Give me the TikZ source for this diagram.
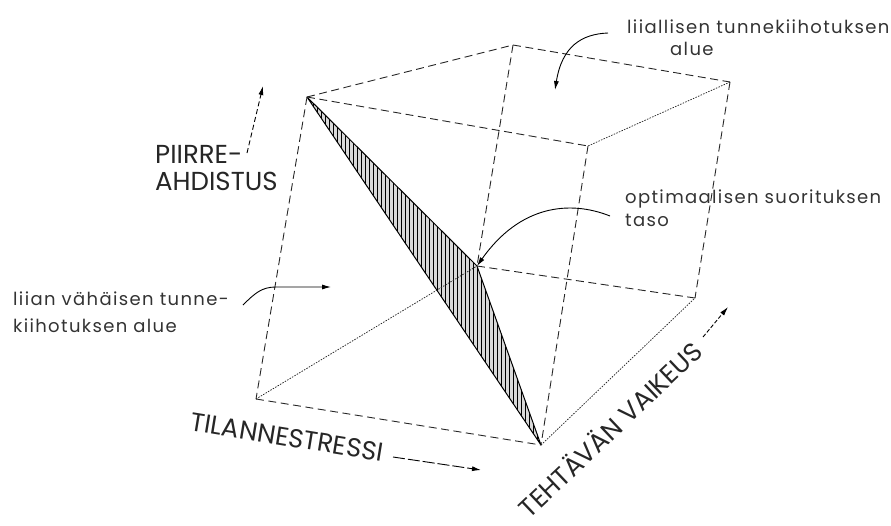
\documentclass[tikz,border=0pt]{standalone}
\usepackage{fontspec}
\setmainfont{Poppins}
\newfontfamily\lblfont{Poppins}[LetterSpace=7.5]
\usetikzlibrary{arrows.meta}
\begin{document}
\begin{tikzpicture}[x=1pt,y=-1pt,
  edge/.style={line width=0.9pt, dash pattern=on 8pt off 4.5pt, black!85},
  fine/.style={line width=0.75pt, dash pattern=on 1.5pt off 1.3pt, black!85},
  rim/.style={line width=1pt, line join=round},
  lbl/.style={font=\lblfont\fontsize{18}{20}\selectfont, inner sep=0pt, text=black!80, anchor=base west},
  capl/.style={font=\fontsize{26}{28}\selectfont, inner sep=0pt, text=black!85, text height=18pt, text depth=0pt},
  arr/.style={-{Latex[length=9pt,width=5pt]}, line width=0.9pt},
  darr/.style={arr, dash pattern=on 5pt off 3pt},
]
\useasboundingbox (0,0) rectangle (891,525);
% cube vertices
\coordinate (A) at (307,97);
\coordinate (B) at (513,45);
\coordinate (C) at (730,82);
\coordinate (D) at (588,146);
\coordinate (E) at (256,399);
\coordinate (F) at (477,266);
\coordinate (G) at (695,298);
\coordinate (H) at (541,445);
% hatched plane
\begin{scope}
  \clip (A) -- (F) -- (H) -- cycle;
  \fill[gray!30] (A) -- (F) -- (H) -- cycle;
  \foreach \x in {305,309,...,545} \draw[line width=0.7pt] (\x,90) -- (\x,450);
\end{scope}
\draw[rim] (A) -- (F) -- (H) -- cycle;
% cube edges
\draw[edge] (A) -- (B);
\draw[edge] (A) -- (D);
\draw[edge] (B) -- (C);
\draw[fine] (C) -- (D);
\draw[edge] (A) -- (E);
\draw[edge] (B) -- (F);
\draw[edge] (C) -- (G);
\draw[edge] (D) -- (H);
\draw[edge] (E) -- (H);
\draw[fine] (E) -- (F);
\draw[edge] (F) -- (G);
\draw[fine] (H) -- (G);
% labels
\node[lbl] (l1a) at (627,33) {liiallisen tunnekiihotuksen};
\node[lbl] (l1b) at (670,55) {alue};
\node[lbl] (l3a) at (625,203) {optimaalisen suorituksen};
\node[lbl] (l3b) at (625,226) {taso};
\node[lbl] (l4a) at (13,305) {liian vähäisen tunne-};
\node[lbl] (l4b) at (13,332) {kiihotuksen alue};
\node[capl, anchor=base west] (p1) at (155,163) {PIIRRE-};
\node[capl, anchor=base west] (p2) at (155,190) {AHDISTUS};
\node[capl, rotate=-9.3] (ts) at (287,437) {TILANNESTRESSI};
\node[capl, rotate=43.5] (tv) at (611,430) {TEHTÄVÄN VAIKEUS};
% arrow end points
\coordinate (a1s) at (608,33);
\coordinate (a1e) at (555,90);
\coordinate (a2s) at (247,153);
\coordinate (a2e) at (263,86);
\coordinate (a3s) at (610,216);
\coordinate (a4s) at (243,305);
\coordinate (a4e) at (331,287);
\coordinate (a5s) at (393,457);
\coordinate (a5e) at (481,470);
\coordinate (a6s) at (703,337);
\coordinate (a6e) at (728,307);
% arrows
\draw[arr] (a1s) .. controls (582,34) and (562,46) .. (a1e);
\draw[darr] (a2s) -- (a2e);
\draw[arr] (a3s) .. controls (570,200) and (520,205) .. (F);
\draw[arr] (a4s) .. controls (255,293) and (262,287) .. (276,287) -- (a4e);
\draw[arr, dash pattern=on 12pt off 3pt] (a5s) -- (a5e);
\draw[darr, dash pattern=on 4pt off 2pt] (a6s) -- (a6e);
\end{tikzpicture}
\end{document}
